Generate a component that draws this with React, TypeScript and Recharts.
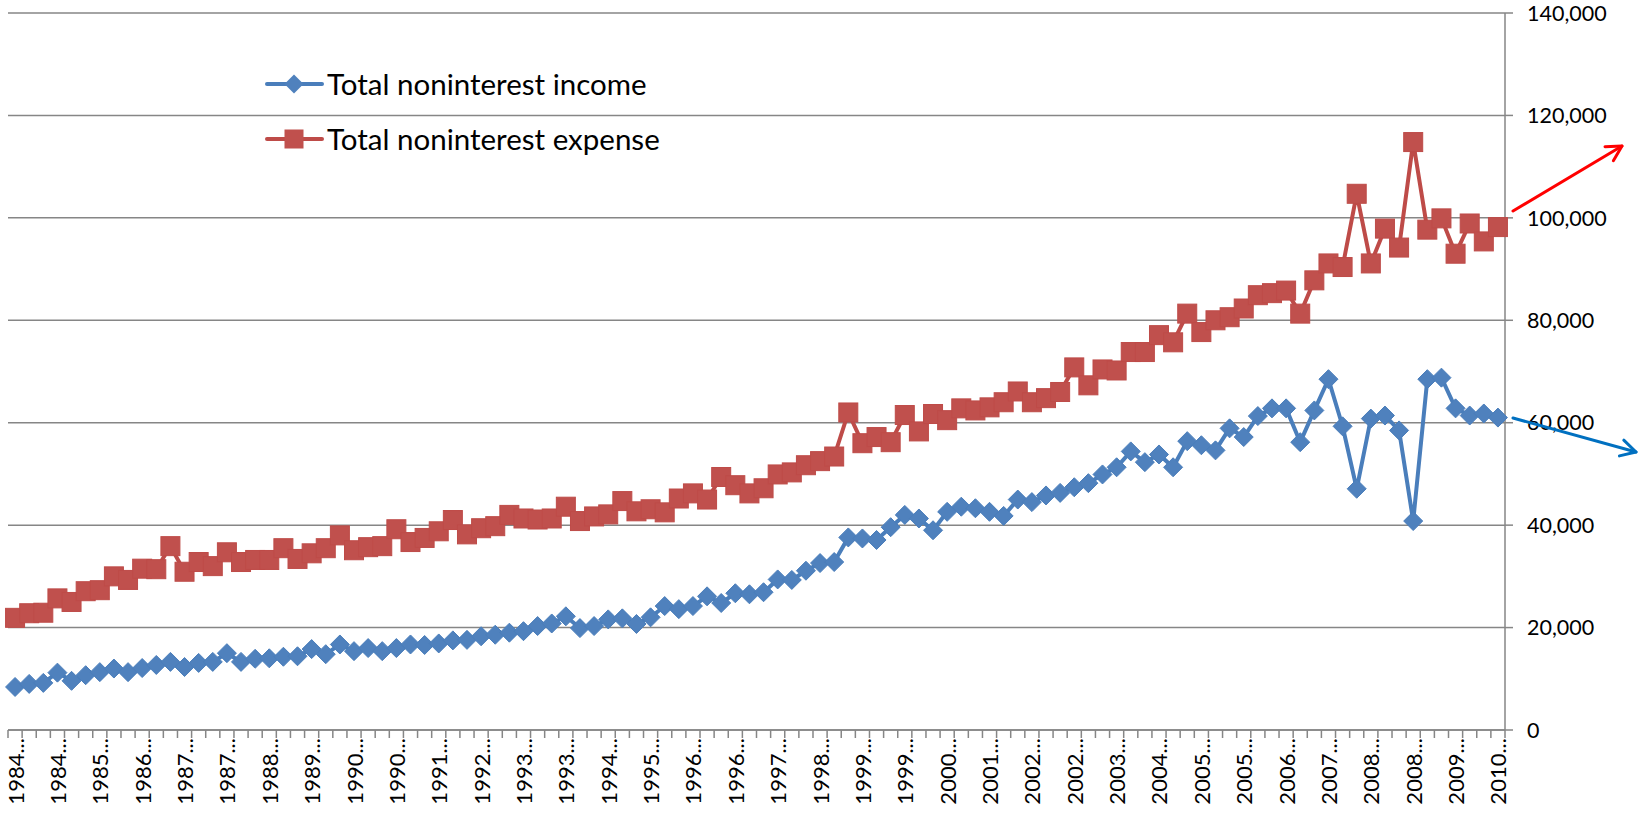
import React from "react";
import { LineChart, Line, XAxis, YAxis, CartesianGrid } from "recharts";

const YEARS = [1984,1985,1986,1987,1988,1989,1990,1991,1992,1993,1994,1995,1996,1997,1998,1999,2000,2001,2002,2003,2004,2005,2006,2007,2008,2009,2010];
const QUARTERS = ["Q1","Q2","Q3","Q4"];
const N_POINTS = 106;

const income = [
  8400, 9000, 9200, 11200, 9600, 10700, 11300, 12000, 11300, 12100,
  12700, 13300, 12300, 13100, 13300, 15000, 13300, 13900, 14000, 14300,
  14400, 15800, 14800, 16700, 15400, 16000, 15400, 16000, 16700, 16600,
  16900, 17500, 17600, 18300, 18600, 19000, 19300, 20300, 20800, 22200,
  19900, 20300, 21600, 21800, 20700, 22000, 24200, 23600, 24200, 26100,
  24800, 26700, 26500, 26900, 29400, 29300, 31100, 32600, 32800, 37600,
  37400, 37100, 39600, 42000, 41300, 39000, 42600, 43600, 43300, 42600,
  41800, 45000, 44500, 45800, 46300, 47400, 48200, 49900, 51300, 54400,
  52300, 53800, 51300, 56400, 55600, 54600, 58900, 57200, 61300, 62800,
  62800, 56200, 62400, 68500, 59300, 47100, 60800, 61400, 58500, 40800,
  68500, 68800, 62800, 61400, 61800, 61000,
];

const expense = [
  21900, 22800, 22900, 25700, 25000, 27100, 27300, 30000, 29300, 31500,
  31400, 35900, 30900, 32800, 32000, 34700, 32800, 33200, 33200, 35500,
  33400, 34500, 35500, 38000, 35100, 35700, 35900, 39200, 36700, 37500,
  38800, 41000, 38200, 39400, 39800, 42000, 41300, 41100, 41300, 43600,
  40800, 41700, 42100, 44700, 42700, 43100, 42500, 45200, 46200, 45000,
  49400, 47800, 46200, 47200, 49900, 50300, 51700, 52500, 53400, 62000,
  56000, 57200, 56200, 61500, 58300, 61700, 60500, 62800, 62400, 63000,
  64000, 66100, 64000, 64800, 66000, 70800, 67300, 70400, 70200, 73800,
  73800, 77100, 75700, 81300, 77700, 80000, 80600, 82300, 84900, 85300,
  85800, 81300, 87800, 91100, 90400, 104700, 91100, 97900, 94200, 114800,
  97700, 99900, 93000, 98900, 95400, 98200,
];

const Y_TICKS = [0, 20000, 40000, 60000, 80000, 100000, 120000, 140000];
const SERIES_NAMES = ["Total noninterest income", "Total noninterest expense"];

const categories: string[] = [];
for (let i = 0; i < N_POINTS; i++) {
  categories.push(`${YEARS[Math.floor(i / 4)]}${QUARTERS[i % 4]}`);
}
const data = categories.map((q, i) => ({ q, income: income[i], expense: expense[i] }));

const W = 1639;
const H = 813;
const PLOT_LEFT = 8;
const PLOT_RIGHT = 1505;
const HALF_BAND = (PLOT_RIGHT - PLOT_LEFT) / N_POINTS / 2;
const FONT = "Lato, 'Open Sans', sans-serif";
const AXIS_COLOR = "#868686";
const BLUE = "#4F81BD";
const BLUE_LINE = "#4A7EBB";
const RED = "#C0504D";
const RED_LINE = "#BE4B48";

const fmt = (v: number) => v.toLocaleString("en-US");

const XTick = (props: any) => {
  const { x, y, index, payload } = props;
  const label = String(payload.value).slice(0, 4) + "...";
  return (
    <g>
      <line x1={x - HALF_BAND} x2={x - HALF_BAND} y1={y} y2={y + 8} stroke={AXIS_COLOR} strokeWidth={1.5} />
      {index === N_POINTS - 1 && (
        <line x1={x + HALF_BAND} x2={x + HALF_BAND} y1={y} y2={y + 8} stroke={AXIS_COLOR} strokeWidth={1.5} />
      )}
      {index % 3 === 0 && (
        <text
          transform={`translate(${x},${y + 8}) rotate(-90)`}
          textAnchor="end"
          dominantBaseline="central"
          fontFamily={FONT}
          fontSize={22}
          fill="#000"
        >
          {label}
        </text>
      )}
    </g>
  );
};

const YTick = (props: any) => {
  const { x, y, payload } = props;
  return (
    <text x={x} y={y} dy="0.36em" textAnchor="start" fontFamily={FONT} fontSize={21.5} fill="#000">
      {fmt(payload.value)}
    </text>
  );
};

const Diamond = (props: any) => {
  const { cx, cy, index } = props;
  if (cx == null || cy == null) return <g key={`d${index}`} />;
  const r = 9.5;
  return (
    <path
      key={`d${index}`}
      d={`M${cx},${cy - r} L${cx + r},${cy} L${cx},${cy + r} L${cx - r},${cy} Z`}
      fill={BLUE}
      stroke={BLUE_LINE}
      strokeWidth={1}
    />
  );
};

const Square = (props: any) => {
  const { cx, cy, index } = props;
  if (cx == null || cy == null) return <g key={`s${index}`} />;
  const s = 9.5;
  return (
    <rect key={`s${index}`} x={cx - s} y={cy - s} width={2 * s} height={2 * s} fill={RED} stroke={RED_LINE} strokeWidth={1} />
  );
};

const Arrow = ({ x1, y1, x2, y2, color }: { x1: number; y1: number; x2: number; y2: number; color: string }) => {
  const a = Math.atan2(y2 - y1, x2 - x1);
  const len = 17;
  const spread = 0.5;
  const p1 = [x2 - len * Math.cos(a - spread), y2 - len * Math.sin(a - spread)];
  const p2 = [x2 - len * Math.cos(a + spread), y2 - len * Math.sin(a + spread)];
  return (
    <g stroke={color} strokeWidth={3} fill="none" strokeLinecap="round" strokeLinejoin="round">
      <line x1={x1} y1={y1} x2={x2} y2={y2} />
      <polyline points={`${p1[0]},${p1[1]} ${x2},${y2} ${p2[0]},${p2[1]}`} />
    </g>
  );
};

export default function App() {
  return (
    <div style={{ position: "absolute", left: 0, top: 0, width: W, height: H, background: "#fff" }}>
      <LineChart width={W} height={H} data={data} margin={{ top: 13, right: 0, bottom: 0, left: PLOT_LEFT }}>
        <CartesianGrid horizontal={true} vertical={false} stroke={AXIS_COLOR} strokeWidth={1.5} />
        <XAxis
          dataKey="q"
          interval={0}
          height={83}
          tickLine={false}
          tickSize={0}
          tickMargin={0}
          axisLine={{ stroke: AXIS_COLOR, strokeWidth: 1.5 }}
          padding={{ left: HALF_BAND, right: HALF_BAND }}
          tick={<XTick />}
        />
        <YAxis
          orientation="right"
          width={W - PLOT_RIGHT}
          domain={[0, 140000]}
          ticks={Y_TICKS}
          interval={0}
          tickSize={8}
          tickMargin={14}
          tickLine={{ stroke: AXIS_COLOR, strokeWidth: 1.5 }}
          axisLine={{ stroke: AXIS_COLOR, strokeWidth: 1.5 }}
          tick={<YTick />}
        />
        <Line
          type="linear"
          dataKey="income"
          name={SERIES_NAMES[0]}
          stroke={BLUE_LINE}
          strokeWidth={4}
          dot={(p: any) => <Diamond {...p} />}
          activeDot={false}
          isAnimationActive={false}
        />
        <Line
          type="linear"
          dataKey="expense"
          name={SERIES_NAMES[1]}
          stroke={RED_LINE}
          strokeWidth={4}
          dot={(p: any) => <Square {...p} />}
          activeDot={false}
          isAnimationActive={false}
        />
      </LineChart>
      <svg width={W} height={H} style={{ position: "absolute", left: 0, top: 0, pointerEvents: "none" }}>
        <g>
          <line x1={267} x2={322} y1={84} y2={84} stroke={BLUE_LINE} strokeWidth={4} strokeLinecap="round" />
          <path d="M294,74.5 L303.5,84 L294,93.5 L284.5,84 Z" fill={BLUE} />
          <text x={327} y={84} dy="0.36em" fontFamily={FONT} fontSize={29.5} fill="#000">{SERIES_NAMES[0]}</text>
          <line x1={267} x2={322} y1={139} y2={139} stroke={RED_LINE} strokeWidth={4} strokeLinecap="round" />
          <rect x={284.5} y={129.5} width={19} height={19} fill={RED} />
          <text x={327} y={139} dy="0.36em" fontFamily={FONT} fontSize={29.5} fill="#000">{SERIES_NAMES[1]}</text>
        </g>
        <Arrow x1={1513} y1={211} x2={1622} y2={146} color="#FF0000" />
        <Arrow x1={1513} y1={418} x2={1636} y2={452} color="#0070C0" />
      </svg>
    </div>
  );
}
